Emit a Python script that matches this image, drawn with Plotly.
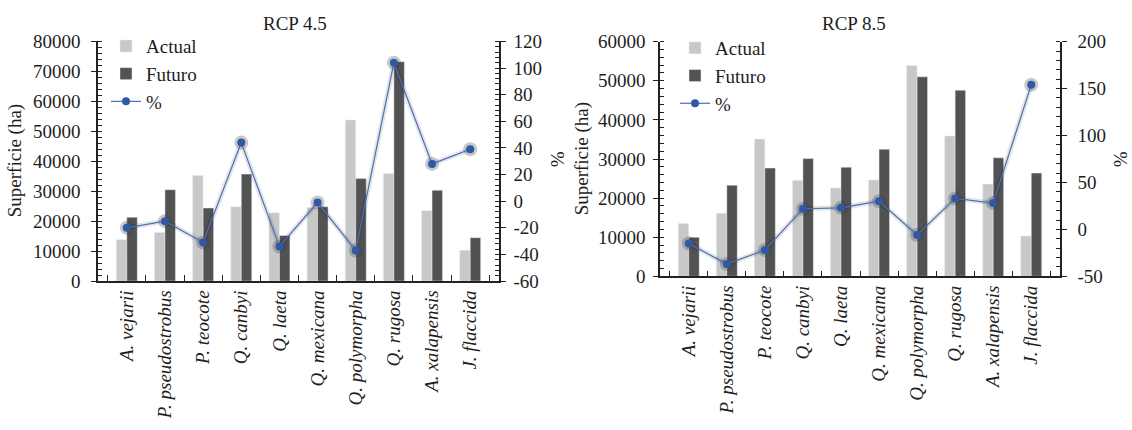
import plotly.graph_objects as go

species = ["A. vejarii", "P. pseudostrobus", "P. teocote", "Q. canbyi", "Q. laeta",
           "Q. mexicana", "Q. polymorpha", "Q. rugosa", "A. xalapensis", "J. flaccida"]

# RCP 4.5
actual_45 = [13800, 16200, 35200, 24800, 22800, 24600, 53800, 35900, 23500, 10300]
futuro_45 = [21300, 30500, 24400, 35700, 15200, 24800, 34200, 73200, 30300, 14500]
pct_45 = [-20, -15, -31, 44, -34, -1, -37, 104, 28, 39]

# RCP 8.5
actual_85 = [13500, 16100, 35100, 24500, 22600, 24600, 53900, 35900, 23600, 10300]
futuro_85 = [10000, 23300, 27700, 30100, 27900, 32500, 51000, 47600, 30300, 26400]
pct_85 = [-15, -37, -22, 22, 23, 30, -6, 33, 28, 154]

# tick labels
ha_ticks_45 = [0, 10000, 20000, 30000, 40000, 50000, 60000, 70000, 80000]
pct_ticks_45 = [-60, -40, -20, 0, 20, 40, 60, 80, 100, 120]
ha_ticks_85 = [0, 10000, 20000, 30000, 40000, 50000, 60000]
pct_ticks_85 = [-50, 0, 50, 100, 150, 200]

cat_labels = ["<i>" + s + "</i>" for s in species]

LIGHT = "#c8c8c8"
DARK = "#525252"
BLUE_LINE = "#4a70b8"
BLUE_MARK = "#2f58a6"
FONT = "Liberation Serif"
TXT = "#1e1e1e"

W, H = 1132, 430
def px_x(v):
    return v / W
def px_y(v):
    return 1 - v / H

fig = go.Figure()

def add_chart(xa, ya, ya2, actual, futuro, pct, legend):
    fig.add_trace(go.Bar(x=cat_labels, y=actual, name="Actual", marker_color=LIGHT,
                         xaxis=xa, yaxis=ya, legend=legend))
    fig.add_trace(go.Bar(x=cat_labels, y=futuro, name="Futuro", marker_color=DARK,
                         xaxis=xa, yaxis=ya, legend=legend))
    fig.add_trace(go.Scatter(x=cat_labels, y=pct, mode="lines+markers", showlegend=False,
                             line=dict(color="rgba(0,0,0,0.10)", width=5),
                             marker=dict(size=14, color="rgba(60,60,60,0.28)"),
                             hoverinfo="skip", xaxis=xa, yaxis=ya2))
    fig.add_trace(go.Scatter(x=cat_labels, y=pct, name="%", mode="lines+markers",
                             line=dict(color=BLUE_LINE, width=1.2),
                             marker=dict(size=8, color=BLUE_MARK),
                             xaxis=xa, yaxis=ya2, legend=legend))

add_chart("x", "y", "y2", actual_45, futuro_45, pct_45, "legend")
add_chart("x2", "y3", "y4", actual_85, futuro_85, pct_85, "legend2")

tickfont = dict(family=FONT, size=19, color=TXT)

def xaxis(domain, anchor):
    return dict(domain=domain, anchor=anchor, type="category",
                showline=True, linecolor="#222", linewidth=1.5,
                ticks="inside", tickson="boundaries", ticklen=6, tickcolor="#222",
                tickangle=-90, tickfont=tickfont, showgrid=False)

def yaxis(domain, anchor, rng, ticks, minor_dtick, side="left", overlaying=None, standoff=5):
    d = dict(domain=domain, anchor=anchor, range=rng, side=side,
             tickmode="array", tickvals=ticks, ticktext=[str(t) for t in ticks],
             showline=True, linecolor="#222", linewidth=1.5,
             ticks="outside", ticklen=5, tickcolor="#222", tickwidth=1.2,
             ticklabelstandoff=standoff,
             minor=dict(ticks="inside", ticklen=4, dtick=minor_dtick, tick0=rng[0],
                        tickcolor="#222", tickwidth=1),
             tickfont=tickfont, showgrid=False, zeroline=False)
    if overlaying:
        d["overlaying"] = overlaying
    return d

xL = [px_x(98), px_x(499)]
yL = [px_y(285), px_y(33)]
xR = [px_x(660), px_x(1060)]
yR = [px_y(280), px_y(33.3)]

legfont = dict(family=FONT, size=19, color=TXT)

fig.update_layout(
    width=W, height=H,
    margin=dict(l=0, r=0, t=0, b=0),
    paper_bgcolor="white", plot_bgcolor="white",
    barmode="group", bargap=0.45, bargroupgap=0,
    font=dict(family=FONT, size=19, color=TXT),
    xaxis=xaxis(xL, "y"),
    yaxis=yaxis(yL, "x", [0, 80000], ha_ticks_45, 2000, standoff=7),
    yaxis2=yaxis(yL, "x", [-60, 120], pct_ticks_45, 4, side="right", overlaying="y", standoff=4),
    xaxis2=xaxis(xR, "y3"),
    yaxis3=yaxis(yR, "x2", [0, 60000], ha_ticks_85, 2000, standoff=4),
    yaxis4=yaxis(yR, "x2", [-50, 200], pct_ticks_85, 10, side="right", overlaying="y3", standoff=7),
    legend=dict(x=px_x(106), y=px_y(18), xanchor="left", yanchor="top",
                bgcolor="rgba(0,0,0,0)", font=legfont,
                tracegroupgap=0, itemwidth=30),
    legend2=dict(x=px_x(675), y=px_y(20), xanchor="left", yanchor="top",
                 bgcolor="rgba(0,0,0,0)", font=legfont,
                 tracegroupgap=0, itemwidth=30),
    showlegend=True,
)

def ann(text, x, y, size=19, angle=0):
    return dict(text=text, x=px_x(x), y=px_y(y), xref="paper", yref="paper",
                xanchor="center", yanchor="middle", textangle=angle, showarrow=False,
                font=dict(family=FONT, size=size, color=TXT))

annotations = [
    ann("RCP 4.5", 295, 14),
    ann("RCP 8.5", 854, 14),
    ann("Superficie (ha)", 15, 159, angle=-90),
    ann("Superficie (ha)", 582, 157, angle=-90),
    ann("%", 557, 157, angle=-90),
    ann("%", 1120, 157, angle=-90),
]
fig.update_layout(annotations=annotations)

fig.write_html("out.html")
